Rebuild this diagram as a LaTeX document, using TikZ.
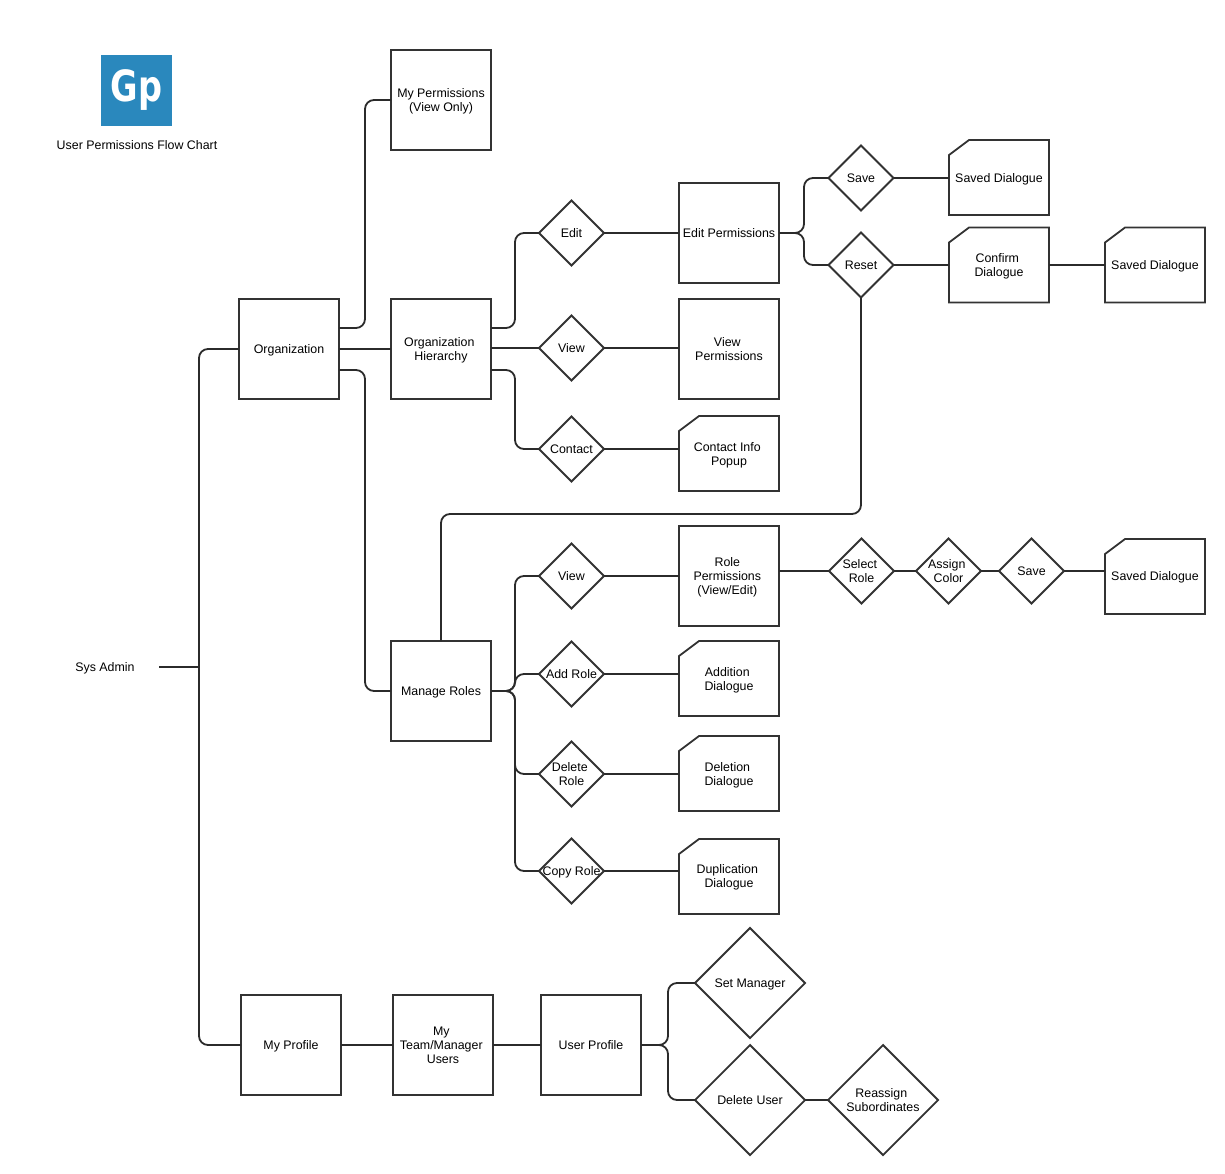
\documentclass[tikz,border=0pt]{standalone}
\usepackage{fontspec}
\setmainfont{Liberation Sans}
\newfontfamily\logofont{DejaVu Sans}
\usetikzlibrary{calc,shapes.geometric}
\definecolor{chartink}{HTML}{333333}
\definecolor{chartlink}{HTML}{2B2B2B}
\definecolor{chartblue}{HTML}{2A88BD}
\newcommand{\cardtext}[2][4.7pt]{\smash{\makebox[0pt]{\raisebox{-#1}{\begin{tabular}{@{}c@{}}#2\end{tabular}}}}}
\newcommand{\lag}{\hspace*{3.4pt}}

\begin{document}
\begin{tikzpicture}[
        x=1pt,y=-1pt,
        every node/.style={font=\fontsize{12.4}{14}\selectfont,align=center,text=black,inner sep=0pt,outer sep=0pt},
        page/.style={rectangle,draw=chartink,line width=1.8pt,minimum width=100pt,minimum height=100pt},
        dialogue/.style={rectangle,minimum width=100pt,minimum height=75pt,
          append after command={\pgfextra{\let\lastdialogue\tikzlastnode
            \draw[draw=chartink,line width=1.8pt,line join=miter]
              ([xshift=20pt]\lastdialogue.north west) -- (\lastdialogue.north east)
              -- (\lastdialogue.south east) -- (\lastdialogue.south west)
              -- ([yshift=-15pt]\lastdialogue.north west) -- cycle;}}},
        choice/.style={diamond,aspect=1,draw=chartink,line width=1.8pt,minimum width=65pt,minimum height=65pt},
        bigchoice/.style={choice,minimum width=110pt,minimum height=110pt},
        link/.style={draw=chartlink,line width=1.8pt,rounded corners=9pt}
      ]
        \useasboundingbox (0,0) rectangle (1225,1174);
        \node[rectangle,fill=chartblue,minimum width=71pt,minimum height=71pt,text=white,
          font=\fontsize{43}{43}\logofont\bfseries] (logo) at (136.5,90.5) {\scalebox{.78}[1]{Gp}};
        \node (title) at (137,145) {User Permissions Flow Chart};
        \node[minimum width=108pt,minimum height=14pt] (sysadmin) at (105,667) {\cardtext[4.2pt]{Sys Admin}};
        \coordinate (trunk) at (199,667);
        \coordinate (rolebus) at (441,514);

        \node[page] (organization) at (289,349) {\cardtext{Organization}};
        \node[page] (myperm) at (441,100) {\cardtext{My Permissions\\(View Only)}};
        \node[page] (orghierarchy) at (441,349) {\cardtext{Organization\lag\\Hierarchy}};
        \node[page] (manageroles) at (441,691) {\cardtext{Manage Roles}};

        \node[choice] (edit) at (571.5,233) {\cardtext{Edit}};
        \node[choice] (view) at (571.5,348) {\cardtext{View}};
        \node[choice] (contact) at (571.5,449) {\cardtext{Contact}};
        \node[page] (editperm) at (729,233) {\cardtext{Edit Permissions}};
        \node[page] (viewperm) at (729,349) {\cardtext{View\lag\\Permissions}};
        \node[dialogue] (contactinfo) at (729,453.5) {\cardtext{Contact Info\lag\\Popup}};

        \node[choice] (save) at (861,178) {\cardtext{Save}};
        \node[choice] (reset) at (861,265) {\cardtext{Reset}};
        \node[dialogue] (savedone) at (999,177.5) {\cardtext[5.2pt]{Saved Dialogue}};
        \node[dialogue] (confirm) at (999,265) {\cardtext{Confirm\lag\\Dialogue}};
        \node[dialogue] (savedtwo) at (1155,265) {\cardtext{Saved Dialogue}};

        \node[choice] (viewrole) at (571.5,576) {\cardtext{View}};
        \node[choice] (addrole) at (571.5,674) {\cardtext{Add Role}};
        \node[choice] (deleterole) at (571.5,774) {\cardtext{Delete\lag\\Role}};
        \node[choice] (copyrole) at (571.5,871) {\cardtext{Copy Role}};
        \node[page] (roleperm) at (729,576) {\cardtext{Role\lag\\Permissions\lag\\(View/Edit)\lag}};
        \node[dialogue] (addition) at (729,678.5) {\cardtext{Addition\lag\\Dialogue}};
        \node[dialogue] (deletion) at (729,773.5) {\cardtext{Deletion\lag\\Dialogue}};
        \node[dialogue] (duplication) at (729,876.5) {\cardtext[3.7pt]{Duplication\lag\\Dialogue}};

        \node[choice] (selectrole) at (861.5,571) {\cardtext{Select\lag\\Role}};
        \node[choice] (assigncolor) at (948.5,571) {\cardtext{Assign\lag\\Color}};
        \node[choice] (saverole) at (1031.5,571) {\cardtext{Save}};
        \node[dialogue] (savedthree) at (1155,576.5) {\cardtext[4.2pt]{Saved Dialogue}};

        \node[page] (myprofile) at (291,1045) {\cardtext{My Profile}};
        \node[page] (team) at (443,1045) {\cardtext{My\lag\\Team/Manager\lag\\Users}};
        \node[page] (userprofile) at (591,1045) {\cardtext{User Profile}};
        \node[bigchoice] (setmanager) at (750,983) {\cardtext{Set Manager}};
        \node[bigchoice] (deleteuser) at (750,1100) {\cardtext{Delete User}};
        \node[bigchoice] (reassign) at (883,1100) {\cardtext{Reassign\lag\\Subordinates}};

        \draw[link] (organization.west) -| (trunk) |- (myprofile.west);
        \draw[link] (sysadmin.east) -- (trunk);
        \draw[link] ([yshift=21pt]organization.east) -- ++(26,0) |- (myperm.west);
        \draw[link] (organization.east) -- (orghierarchy.west);
        \draw[link] ([yshift=-21pt]organization.east) -- ++(26,0) |- (manageroles.west);

        \draw[link] ([yshift=21pt]orghierarchy.east) -- ++(24,0) |- (edit.west);
        \draw[link] (orghierarchy.east |- view.west) -- (view.west);
        \draw[link] ([yshift=-21pt]orghierarchy.east) -- ++(24,0) |- (contact.west);
        \draw[link] (edit.east) -- (edit.east -| editperm.west);
        \draw[link] (view.east) -- (view.east -| viewperm.west);
        \draw[link] (contact.east) -- (contact.east -| contactinfo.west);

        \draw[link] (editperm.east) -- ++(25,0) |- (save.west);
        \draw[link] (editperm.east) -- ++(25,0) |- (reset.west);
        \draw[link] (save.east) -- (save.east -| savedone.west);
        \draw[link] (reset.east) -- (reset.east -| confirm.west);
        \draw[link] (confirm.east) -- (savedtwo.west);
        \draw[link] (reset.south) |- (rolebus) -- (manageroles.north);

        \draw[link] (manageroles.east) -- ++(24,0) |- (viewrole.west);
        \draw[link] (manageroles.east) -- ++(24,0) |- (addrole.west);
        \draw[link] (manageroles.east) -- ++(24,0) |- (deleterole.west);
        \draw[link] (manageroles.east) -- ++(24,0) |- (copyrole.west);
        \draw[link] (viewrole.east) -- (roleperm.west);
        \draw[link] (addrole.east) -- (addrole.east -| addition.west);
        \draw[link] (deleterole.east) -- (deleterole.east -| deletion.west);
        \draw[link] (copyrole.east) -- (copyrole.east -| duplication.west);

        \draw[link] (roleperm.east |- selectrole.west) -- (selectrole.west);
        \draw[link] (selectrole.east) -- (assigncolor.west);
        \draw[link] (assigncolor.east) -- (saverole.west);
        \draw[link] (saverole.east) -- (saverole.east -| savedthree.west);

        \draw[link] (myprofile.east) -- (team.west);
        \draw[link] (team.east) -- (userprofile.west);
        \draw[link] (userprofile.east) -- ++(27,0) |- (setmanager.west);
        \draw[link] (userprofile.east) -- ++(27,0) |- (deleteuser.west);
        \draw[link] (deleteuser.east) -- (reassign.west);
      \end{tikzpicture}
\end{document}
